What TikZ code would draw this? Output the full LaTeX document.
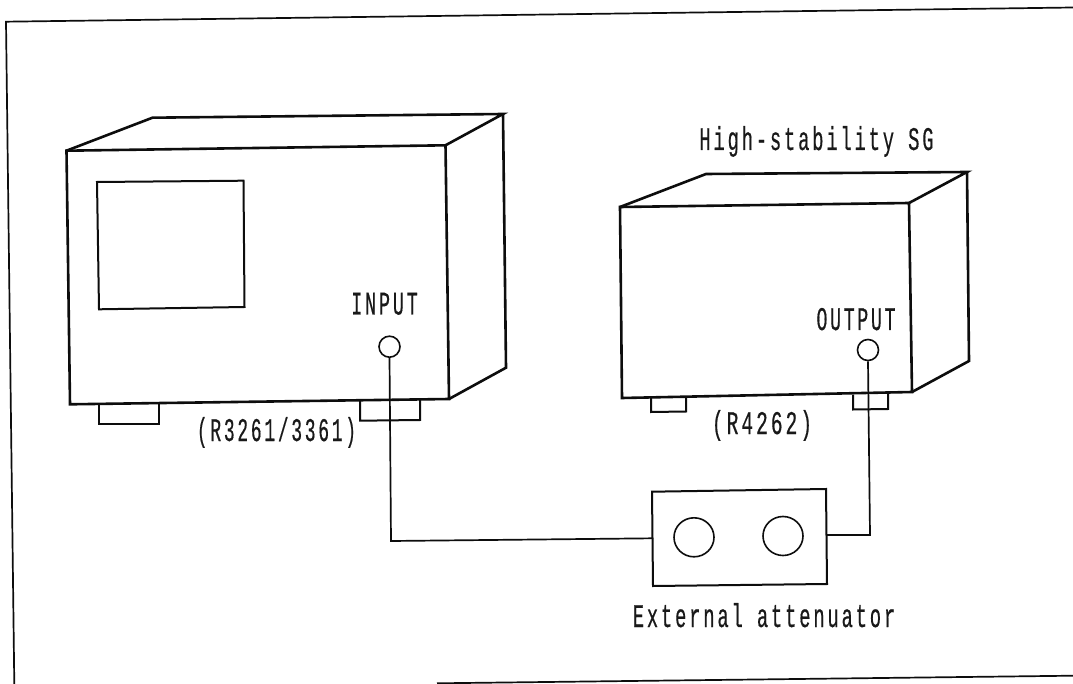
\documentclass[tikz,border=0pt]{standalone}
\usepackage{fontspec}
\usetikzlibrary{shapes.geometric}
\setmainfont[LetterSpace=15,FakeBold=0.6]{Liberation Mono}
\newcommand{\narrow}[2]{\scalebox{#1}[1]{#2}}
\tikzset{
  x=1pt,y=-1pt,
  boxline/.style={line width=2.6pt,line join=miter,black!95},
  thinbox/.style={line width=2pt,line join=miter,black!95},
  frameline/.style={line width=1.7pt,black!95},
  wire/.style={line width=1.7pt,line join=miter,black!95},
  jack/.style={circle,draw=black!95,line width=1.6pt,inner sep=0pt,minimum size=21pt},
  dial/.style={ellipse,draw=black!95,line width=1.6pt,inner sep=0pt,minimum width=40pt,minimum height=39pt},
  lbl/.style={font=\fontsize{33}{35}\selectfont,inner sep=0pt,anchor=base,text=black!90},
}
\begin{document}
\begin{tikzpicture}
\useasboundingbox (0,0) rectangle (1073,684);
\fill[white] (0,0) rectangle (1073,684);
% frame
\coordinate (fa) at (6,21.7);
\coordinate (fb) at (1073,7.5);
\coordinate (fc) at (14.3,684);
\coordinate (fd) at (437,683.3);
\coordinate (fe) at (1073,675.7);
\draw[frameline] (fc) -- (fa) -- (fb);
\draw[frameline] (fd) -- (fe);
% left instrument
\coordinate (a1) at (66.5,150.7);
\coordinate (a2) at (445.5,145.3);
\coordinate (a3) at (449,399);
\coordinate (a4) at (70,404.3);
\coordinate (a5) at (152.5,117.7);
\coordinate (a6) at (503,114);
\coordinate (a7) at (506,367.7);
\draw[boxline] (a1) -- (a2) -- (a3) -- (a4) -- cycle;
\draw[boxline] (a1) -- (a5) -- (a6) -- (a2);
\draw[boxline] (a6) -- (a7) -- (a3);
\draw[thinbox] (97,182) -- (243.5,180.7) -- (244.5,307) -- (99,309.3) -- cycle;
\draw[thinbox] (99,404) -- (99,424) -- (159,424) -- (159,404);
\draw[thinbox] (360,400.5) -- (360,420.7) -- (420,420) -- (420,400);
\node[jack] (inp) at (389.5,346.7) {};
\node[lbl] (inputlbl) at (384.5,314.5) {\narrow{.56}{INPUT}};
\node[lbl] (mod1) at (276.5,441) {\narrow{.545}{(R3261/3361)}};
% right instrument
\coordinate (b1) at (620,207);
\coordinate (b2) at (909,203);
\coordinate (b3) at (912,392);
\coordinate (b4) at (622,398);
\coordinate (b5) at (706,174);
\coordinate (b6) at (967,172);
\coordinate (b7) at (969,361);
\draw[boxline] (b1) -- (b2) -- (b3) -- (b4) -- cycle;
\draw[boxline] (b1) -- (b5) -- (b6) -- (b2);
\draw[boxline] (b6) -- (b7) -- (b3);
\draw[thinbox] (651,398) -- (651,412) -- (686,411.5) -- (686,397.5);
\draw[thinbox] (853,395) -- (853,409.5) -- (888,409) -- (888,394);
\node[jack] (out) at (868,350) {};
\node[lbl] (outputlbl) at (856,330) {\narrow{.55}{OUTPUT}};
\node[lbl] (mod2) at (762,434) {\narrow{.595}{(R4262)}};
\node[lbl] (sg) at (816.5,150) {\narrow{.57}{High-stability SG}};
% attenuator
\coordinate (t1) at (652,491.7);
\coordinate (t2) at (826,489);
\coordinate (t3) at (827,584);
\coordinate (t4) at (653,586);
\draw[thinbox] (t1) -- (t2) -- (t3) -- (t4) -- cycle;
\node[dial] (d1) at (694,537.3) {};
\node[dial] (d2) at (783,536) {};
\node[lbl] (att) at (764,627) {\narrow{.57}{External attenuator}};
% wires
\coordinate (atl) at (653,538.3);
\coordinate (atr) at (827,535);
\draw[wire] (inp.south) -- (391,541) -- (atl);
\draw[wire] (out.south) -- (870,535) -- (atr);
\end{tikzpicture}
\end{document}
